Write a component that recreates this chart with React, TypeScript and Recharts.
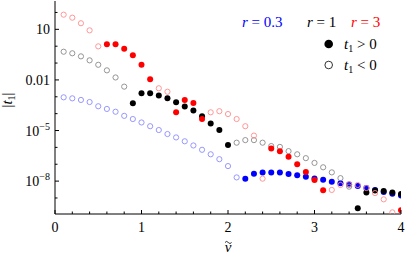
import React from 'react';
import { ScatterChart, Scatter, XAxis, YAxis } from 'recharts';

// reduced frequency (horizontal axis)
const nu = [
  0.1, 0.2, 0.3, 0.4, 0.5, 0.6, 0.7, 0.8, 0.9, 1.0,
  1.1, 1.2, 1.3, 1.4, 1.5, 1.6, 1.7, 1.8, 1.9, 2.0,
  2.1, 2.2, 2.3, 2.4, 2.5, 2.6, 2.7, 2.8, 2.9, 3.0,
  3.1, 3.2, 3.3, 3.4, 3.5, 3.6, 3.7, 3.8, 3.9, 4.0,
];

// signed t1 values, one per nu (sign decides filled / open marker)
const t1R03 = [
  -9.3e-4, -8.1e-4, -6.5e-4, -4.9e-4, -2.75e-4, -1.9e-4, -1.3e-4, -7.4e-5, -4.8e-5, -3.0e-5,
  -1.8e-5, -1.07e-5, -6.2e-6, -3.9e-6, -2.3e-6, -1.3e-6, -7.2e-7, -3.9e-7, -2.0e-7, -7.8e-8,
  -1.66e-8, 1.4e-8, 2.75e-8, 3.2e-8, 3.2e-8, 3.2e-8, 2.6e-8, 2.2e-8, 1.8e-8, 1.45e-8,
  1.2e-8, 9.1e-9, 7.4e-9, 6.3e-9, 5.2e-9, 3.9e-9, 3.0e-9, 2.3e-9, 1.8e-9, 1.4e-9,
];

const t1R1 = [
  -0.47, -0.38, -0.25, -0.145, -0.079, -0.037, -0.014, -4.0e-3, 4.1e-4, 1.6e-3,
  1.6e-3, 1.2e-3, 8.1e-4, 4.7e-4, 2.7e-4, 1.55e-4, 7.1e-5, 2.6e-5, 1.07e-5, 1.4e-6,
  -1.9e-6, -2.7e-6, -2.7e-6, -1.9e-6, -1.2e-6, -1.07e-6, -6.0e-7, -3.9e-7, -2.3e-7, -1.2e-7,
  -6.6e-8, -3.3e-8, -1.5e-8, -4.7e-9, 2.5e-10, 2.1e-9, 2.8e-9, 2.6e-9, 2.1e-9, 1.7e-9,
];

const t1R3 = [
  -74, -49, -23, -8.7, -0.98, 1.3, 1.3, 0.71, 0.29, 0.079,
  0.011, -3.2e-3, -2.0e-3, 1.2e-4, 6.5e-4, 4.3e-4, 4.8e-5, -1.2e-4, -1.4e-4, -9.5e-5,
  -4.8e-5, -1.8e-5, -5.0e-6, -1.4e-8, 8.7e-7, 6.0e-7, 2.8e-7, 1.0e-7, 3.5e-8, 1.15e-8,
  2.9e-9, -3.0e-9, -5.9e-9, -6.5e-9, -5.9e-9, -3.9e-9, -1.95e-9, -8.3e-10, -1.4e-10, 1.9e-10,
];

const xTicks = [0, 0.2, 0.4, 0.6, 0.8, 1, 1.2, 1.4, 1.6, 1.8, 2, 2.2, 2.4, 2.6, 2.8, 3, 3.2, 3.4, 3.6, 3.8, 4];
const yTicks = [1e-9, 1e-8, 1e-7, 1e-6, 1e-5, 1e-4, 1e-3, 1e-2, 1e-1, 1, 10, 100];
const yLabelled = [10, 1e-2, 1e-5, 1e-8];

const FONT = 'Liberation Serif';

const series = [
  { name: 'r03', values: t1R03, solid: '#0000ff', light: '#8c8cff' },
  { name: 'r1', values: t1R1, solid: '#000000', light: '#8a8a8a' },
  { name: 'r3', values: t1R3, solid: '#ff0000', light: '#ff8c8c' },
];

const pick = (values: number[], positive: boolean) =>
  nu
    .map((x, i) => ({ x, y: Math.abs(values[i]), pos: values[i] > 0 }))
    .filter((d) => d.pos === positive);

const isMajorX = (v: number) => Math.abs(v - Math.round(v)) < 1e-6;
const isLabelY = (v: number) => yLabelled.some((l) => Math.abs(Math.log10(l) - Math.log10(v)) < 1e-6);

const txt = { fontFamily: FONT };

const BottomTick = (props: any) => {
  const { x, y, payload } = props;
  const major = isMajorX(payload.value);
  return (
    <g>
      <line x1={x} x2={x} y1={y} y2={y - (major ? 4 : 2.5)} stroke="#000" />
      {major && (
        <text x={x} y={y + 18} textAnchor="middle" fontSize={14} style={txt} fill="#000">
          {Math.round(payload.value)}
        </text>
      )}
    </g>
  );
};

const TopTick = (props: any) => {
  const { x, y, payload } = props;
  const major = isMajorX(payload.value);
  return <line x1={x} x2={x} y1={y} y2={y + (major ? 4 : 2.5)} stroke="#000" />;
};

const yText = (v: number) => {
  const e = Math.round(Math.log10(v));
  if (e === 1) return '10';
  if (e === -2) return '0.01';
  return null;
};

const LeftTick = (props: any) => {
  const { x, y, payload } = props;
  const v = payload.value;
  const label = isLabelY(v);
  const e = Math.round(Math.log10(v));
  const plain = yText(v);
  return (
    <g>
      <line x1={x} x2={x + (label ? 4 : 2.5)} y1={y} y2={y} stroke="#000" />
      {label && (
        <text x={x - 5} y={y + 5} textAnchor="end" fontSize={14} style={txt} fill="#000">
          {plain !== null ? (
            plain
          ) : (
            <>
              10
              <tspan dy={-6} fontSize={10}>
                {'\u2212' + Math.abs(e)}
              </tspan>
            </>
          )}
        </text>
      )}
    </g>
  );
};

const RightTick = (props: any) => {
  const { x, y, payload } = props;
  const label = isLabelY(payload.value);
  return <line x1={x} x2={x - (label ? 4 : 2.5)} y1={y} y2={y} stroke="#000" />;
};

const dot = (color: string, filled: boolean) => (props: any) => {
  const { cx, cy } = props;
  return filled ? (
    <circle cx={cx} cy={cy} r={3} fill={color} />
  ) : (
    <circle cx={cx} cy={cy} r={2.6} fill="none" stroke={color} strokeWidth={0.9} />
  );
};

const yDomain = [Math.pow(10, -9.95), Math.pow(10, 2.68)];

export default function App() {
  return (
    <div style={{ position: 'absolute', left: 0, top: 0, width: 407, height: 261, background: '#fff' }}>
      <ScatterChart width={407} height={261} margin={{ top: 1, right: 6, bottom: 0, left: 0 }}>
        <XAxis
          xAxisId="b"
          dataKey="x"
          type="number"
          domain={[0, 4]}
          ticks={xTicks}
          interval={0}
          height={47}
          tickSize={0}
          tickMargin={0}
          tickLine={false}
          axisLine={{ stroke: '#000' }}
          tick={<BottomTick />}
          allowDataOverflow
        />
        <XAxis
          xAxisId="t"
          orientation="top"
          type="number"
          domain={[0, 4]}
          ticks={xTicks}
          interval={0}
          height={0}
          tickSize={0}
          tickMargin={0}
          tickLine={false}
          axisLine={{ stroke: '#000' }}
          tick={<TopTick />}
          allowDataOverflow
        />
        <YAxis
          yAxisId="l"
          dataKey="y"
          type="number"
          scale="log"
          domain={yDomain}
          ticks={yTicks}
          interval={0}
          width={55}
          tickSize={0}
          tickMargin={0}
          tickLine={false}
          axisLine={{ stroke: '#000' }}
          tick={<LeftTick />}
          allowDataOverflow
        />
        <YAxis
          yAxisId="r"
          orientation="right"
          type="number"
          scale="log"
          domain={yDomain}
          ticks={yTicks}
          interval={0}
          width={0}
          tickSize={0}
          tickMargin={0}
          tickLine={false}
          axisLine={{ stroke: '#000' }}
          tick={<RightTick />}
          allowDataOverflow
        />
        {series.flatMap((s) => [
          <Scatter
            key={s.name + '-neg'}
            xAxisId="b"
            yAxisId="l"
            data={pick(s.values, false)}
            shape={dot(s.light, false)}
            isAnimationActive={false}
          />,
          <Scatter
            key={s.name + '-pos'}
            xAxisId="b"
            yAxisId="l"
            data={pick(s.values, true)}
            shape={dot(s.solid, true)}
            isAnimationActive={false}
          />,
        ])}
      </ScatterChart>
      <svg
        width={407}
        height={261}
        style={{ position: 'absolute', left: 0, top: 0, pointerEvents: 'none', fontFamily: FONT }}
      >
        <text x={242} y={27} fontSize={15} fill="#0000ff">
          <tspan fontStyle="italic">r</tspan> = 0.3
        </text>
        <text x={307} y={27} fontSize={15} fill="#000">
          <tspan fontStyle="italic">r</tspan> = 1
        </text>
        <text x={351} y={27} fontSize={15} fill="#ff0000">
          <tspan fontStyle="italic">r</tspan> = 3
        </text>
        <circle cx={328.7} cy={44} r={4.3} fill="#000" />
        <text x={344} y={49} fontSize={15} fill="#000">
          <tspan fontStyle="italic">t</tspan>
          <tspan fontSize={10} dy={3}>1</tspan>
          <tspan dy={-3}> &gt; 0</tspan>
        </text>
        <circle cx={328.7} cy={65} r={3.8} fill="none" stroke="#000" strokeWidth={0.8} />
        <text x={344} y={70} fontSize={15} fill="#000">
          <tspan fontStyle="italic">t</tspan>
          <tspan fontSize={10} dy={3}>1</tspan>
          <tspan dy={-3}> &lt; 0</tspan>
        </text>
        <text x={12} y={100} fontSize={15} fill="#000" textAnchor="middle" transform="rotate(-90 12 100)">
          |<tspan fontStyle="italic">t</tspan>
          <tspan fontSize={10} dy={3}>1</tspan>
          <tspan dy={-3}>|</tspan>
        </text>
        <text x={228} y={252} fontSize={15} fill="#000" textAnchor="middle" fontStyle="italic">
          {'\u03bd'}
        </text>
        <path d="M225 242.5 q1.6 -2.2 3.3 0 t3.3 0" fill="none" stroke="#000" strokeWidth={0.8} />
      </svg>
    </div>
  );
}
